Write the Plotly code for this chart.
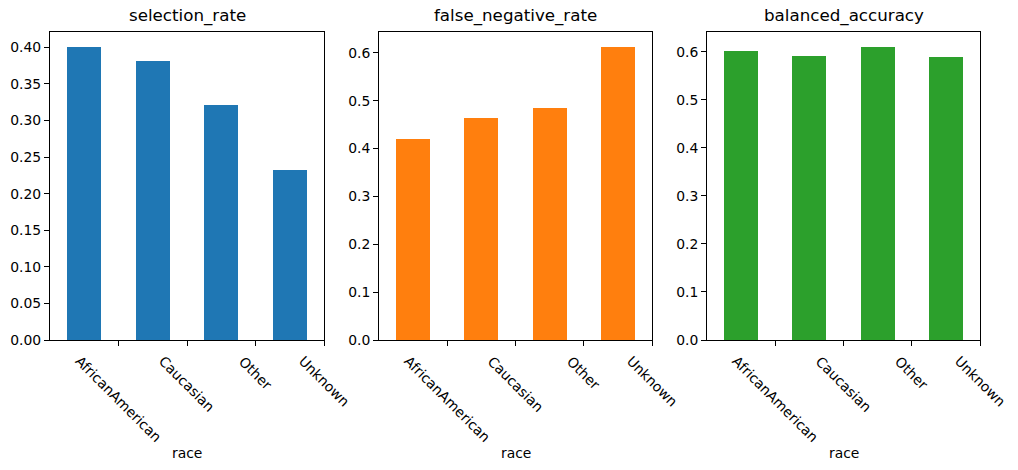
import plotly.graph_objects as go

categories = ["AfricanAmerican", "Caucasian", "Other", "Unknown"]
selection_rate = [0.401, 0.382, 0.321, 0.232]
false_negative_rate = [0.420, 0.463, 0.484, 0.613]
balanced_accuracy = [0.603, 0.591, 0.611, 0.589]

metrics = ["selection_rate", "false_negative_rate", "balanced_accuracy"]
series = [selection_rate, false_negative_rate, balanced_accuracy]
colors = ["#1f77b4", "#ff7f0e", "#2ca02c"]
y_dtick = [0.05, 0.1, 0.1]
y_fmt = [".2f", ".1f", ".1f"]

W, H = 1018, 470
x_px = [(50, 324), (379, 652), (707, 980)]
y_top_px, y_bot_px = 32, 340

FONT = "DejaVu Sans"
TICK_SIZE = 13.9
TITLE_SIZE = 16.7

fig = go.Figure()
annotations = []
positions = list(range(len(categories)))

for i, (name, vals, col) in enumerate(zip(metrics, series, colors)):
    ax = "" if i == 0 else str(i + 1)
    fig.add_trace(go.Bar(
        x=positions, y=vals, width=0.5, marker=dict(color=col, line=dict(width=0)),
        xaxis="x" + ax, yaxis="y" + ax, showlegend=False,
    ))
    x0, x1 = x_px[i]
    dom_x = [x0 / W, x1 / W]
    dom_y = [(H - y_bot_px) / H, (H - y_top_px) / H]
    ymax = max(vals) * 1.05
    fig.layout["xaxis" + ax] = dict(
        domain=dom_x, anchor="y" + ax, range=[-0.5, len(categories) - 0.5],
        tickvals=[p + 0.5 for p in positions], ticktext=["" for _ in positions],
        ticks="outside", ticklen=5, tickwidth=1, tickcolor="black",
        showline=True, linecolor="black", linewidth=1, mirror=True,
        showgrid=False, zeroline=False, fixedrange=True, automargin=False,
    )
    fig.layout["yaxis" + ax] = dict(
        domain=dom_y, anchor="x" + ax, range=[0, ymax],
        dtick=y_dtick[i], tick0=0, tickformat=y_fmt[i],
        ticks="outside", ticklen=5, tickwidth=1, tickcolor="black",
        showline=True, linecolor="black", linewidth=1, mirror=True,
        showgrid=False, zeroline=False, automargin=False,
        tickfont=dict(family=FONT, size=TICK_SIZE, color="black"),
    )
    xref = "x" + ax
    for p, cat in zip(positions, categories):
        annotations.append(dict(
            x=p + 0.5, xref=xref, y=(H - 350) / H, yref="paper",
            text=cat, textangle=45, showarrow=False,
            xanchor="center", yanchor="top",
            font=dict(family=FONT, size=TICK_SIZE, color="black"),
        ))
    xc = (x0 + x1) / 2 / W
    annotations.append(dict(
        x=xc, xref="paper", y=(H - 28) / H, yref="paper", text=name,
        showarrow=False, xanchor="center", yanchor="bottom",
        font=dict(family=FONT, size=TITLE_SIZE, color="black"),
    ))
    annotations.append(dict(
        x=xc, xref="paper", y=(H - 453) / H, yref="paper", text="race",
        showarrow=False, xanchor="center", yanchor="middle",
        font=dict(family=FONT, size=TICK_SIZE, color="black"),
    ))

fig.update_layout(
    template="none",
    width=W, height=H, margin=dict(l=0, r=0, t=0, b=0, autoexpand=False),
    paper_bgcolor="white", plot_bgcolor="white",
    annotations=annotations, font=dict(family=FONT, color="black"),
    bargap=0, showlegend=False,
)
fig.write_html("out.html", config={"displayModeBar": False})
